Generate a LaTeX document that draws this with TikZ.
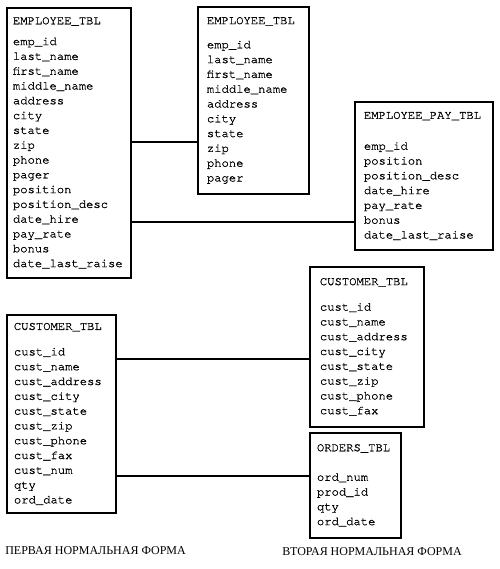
\documentclass[tikz,border=0pt]{standalone}
\usepackage{fontspec}
\setmainfont{Liberation Serif}
\setmonofont[FakeBold=1]{texgyrecursor-regular.otf}
\usepackage{tikz}
\usetikzlibrary{positioning}

\newcommand{\tblfont}{\ttfamily\fontsize{9.15}{11.1}\selectfont}

\begin{document}
\begin{tikzpicture}[
  x=0.75pt, y=-0.75pt,
  tablebox/.style={draw=black, line width=1.4pt, font=\tblfont, align=left, anchor=north west, inner ysep=3pt},
  link/.style={line width=1.4pt, color=black},
  formlabel/.style={font=\fontsize{9}{11}\selectfont, anchor=west, inner sep=0pt}
]
\useasboundingbox (0,0) rectangle (500,569);

% first normal form
\node[tablebox, inner xsep=4.5pt, text width=84pt, minimum height=202.5pt] (emp1) at (6,7)
  {EMPLOYEE\_TBL\\[4.5pt]
   emp\_id\\ last\_name\\ first\_name\\ middle\_name\\ address\\ city\\ state\\ zip\\
   phone\\ pager\\ position\\ position\_desc\\ date\_hire\\ pay\_rate\\ bonus\\ date\_last\_raise};
\node[tablebox, inner xsep=5.25pt, text width=71.25pt, minimum height=148.5pt] (cust1) at (6,314)
  {CUSTOMER\_TBL\\[8pt]
   cust\_id\\ cust\_name\\ cust\_address\\ cust\_city\\ cust\_state\\ cust\_zip\\
   cust\_phone\\ cust\_fax\\ cust\_num\\ qty\\ ord\_date};

% second normal form
\node[tablebox, inner xsep=6.75pt, text width=69.75pt, minimum height=140.25pt] (emp2) at (197,6)
  {EMPLOYEE\_TBL\\[7pt]
   emp\_id\\ last\_name\\ first\_name\\ middle\_name\\ address\\ city\\ state\\ zip\\
   phone\\ pager};
\node[tablebox, inner xsep=6.75pt, text width=90pt, minimum height=111pt] (pay) at (354,101)
  {EMPLOYEE\_PAY\_TBL\\[12pt]
   emp\_id\\ position\\ position\_desc\\ date\_hire\\ pay\_rate\\ bonus\\ date\_last\_raise};
\node[tablebox, inner xsep=7.5pt, text width=70.5pt, minimum height=120pt] (cust2) at (309,266)
  {CUSTOMER\_TBL\\[8pt]
   cust\_id\\ cust\_name\\ cust\_address\\ cust\_city\\ cust\_state\\ cust\_zip\\
   cust\_phone\\ cust\_fax};
\node[tablebox, inner xsep=5.25pt, text width=57.75pt, minimum height=78.75pt] (ord) at (309,432)
  {ORDERS\_TBL\\[11pt]
   ord\_num\\ prod\_id\\ qty\\ ord\_date};

% links
\coordinate (y1) at (0,142);
\coordinate (y2) at (0,222);
\coordinate (y3) at (0,359);
\coordinate (y4) at (0,476);
\draw[link] (emp1.east |- y1) -- (emp2.west |- y1);
\draw[link] (emp1.east |- y2) -- (pay.west |- y2);
\draw[link] (cust1.east |- y3) -- (cust2.west |- y3);
\draw[link] (cust1.east |- y4) -- (ord.west |- y4);

\node[formlabel] (form1) at (5,551) {ПЕРВАЯ НОРМАЛЬНАЯ ФОРМА};
\node[formlabel] (form2) at (282,552) {ВТОРАЯ НОРМАЛЬНАЯ ФОРМА};
\end{tikzpicture}
\end{document}
